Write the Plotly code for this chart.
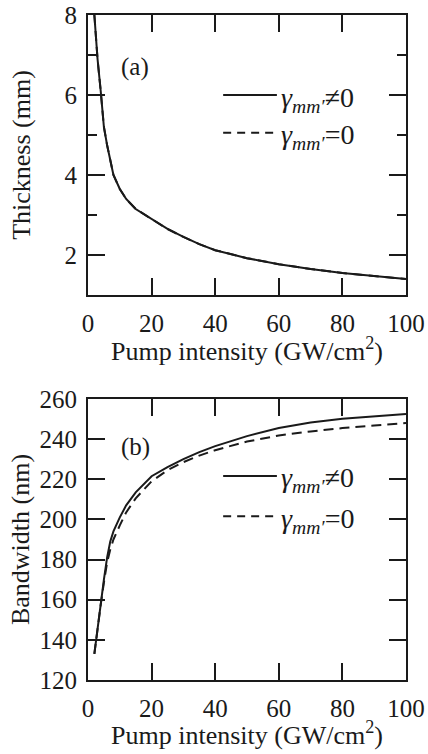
import plotly.graph_objects as go

# ---- data ----
intensity = [2, 3, 4, 5, 6, 7, 8, 10, 12, 15, 20, 25, 30, 35, 40, 50, 60, 70, 80, 90, 100]
thickness_nonzero = [8.0, 6.9, 6.1, 5.2, 4.75, 4.35, 4.0, 3.65, 3.4, 3.15, 2.9, 2.65, 2.45, 2.27, 2.12, 1.92, 1.77, 1.65, 1.55, 1.47, 1.40]
thickness_zero = [8.0, 6.9, 6.1, 5.2, 4.75, 4.35, 4.0, 3.65, 3.4, 3.15, 2.9, 2.65, 2.45, 2.27, 2.12, 1.92, 1.77, 1.65, 1.55, 1.47, 1.40]
bandwidth_nonzero = [133, 146, 158, 170, 181, 189, 194, 201, 207, 213.5, 221.5, 226, 230, 233.5, 236.5, 241.5, 245.5, 248.3, 250.2, 251.3, 252.5]
bandwidth_zero = [133, 146, 157.5, 168.5, 178.5, 185, 190, 197, 203.5, 210.5, 219, 224.5, 228.5, 231.8, 234.5, 238.8, 241.8, 243.8, 245.5, 246.8, 248]

x_ticks = [0, 20, 40, 60, 80, 100]
thick_ticks = [2, 4, 6, 8]
bw_ticks = [120, 140, 160, 180, 200, 220, 240, 260]

x_title = "Pump intensity (GW/cm<sup>2</sup>)"
legend_solid = "<i>γ</i><sub><i>mm′</i></sub>≠0"
legend_dash = "<i>γ</i><sub><i>mm′</i></sub>=0"

FONT = "Liberation Serif"
INK = "#1a1a1a"
LW = 2
TICK_SIZE = 25
TITLE_SIZE = 26
LEGEND_SIZE = 28

fig = go.Figure()
fig.add_trace(go.Scatter(x=intensity, y=thickness_zero, mode="lines",
                         line=dict(color=INK, width=LW, dash="10px,6px"), xaxis="x", yaxis="y"))
fig.add_trace(go.Scatter(x=intensity, y=thickness_nonzero, mode="lines",
                         line=dict(color=INK, width=LW), xaxis="x", yaxis="y"))
fig.add_trace(go.Scatter(x=intensity, y=bandwidth_zero, mode="lines",
                         line=dict(color=INK, width=LW, dash="10px,6px"), xaxis="x2", yaxis="y2"))
fig.add_trace(go.Scatter(x=intensity, y=bandwidth_nonzero, mode="lines",
                         line=dict(color=INK, width=LW), xaxis="x2", yaxis="y2"))

axis_common = dict(showline=True, linecolor=INK, linewidth=LW, mirror="ticks",
                   ticks="inside", ticklen=17, tickwidth=LW, tickcolor=INK,
                   showgrid=False, zeroline=False, automargin=False,
                   tickfont=dict(family=FONT, size=TICK_SIZE, color=INK))

fig.update_layout(
    width=428, height=754,
    margin=dict(l=88, r=22, t=15, b=74),
    paper_bgcolor="white", plot_bgcolor="white",
    showlegend=False,
    xaxis=dict(domain=[0, 1], range=[0, 100], tickvals=x_ticks, anchor="y",
               ticklabelstandoff=5, **axis_common),
    yaxis=dict(domain=[0.579, 1.0], range=[1, 8], tickvals=thick_ticks, anchor="x",
               minor=dict(tickvals=[3, 5, 7], ticklen=9, tickwidth=LW, tickcolor=INK, ticks="inside"),
               title=dict(text="Thickness (mm)", font=dict(family=FONT, size=TITLE_SIZE, color=INK), standoff=26),
               ticklabelstandoff=4, **axis_common),
    xaxis2=dict(domain=[0, 1], range=[0, 100], tickvals=x_ticks, anchor="y2",
                ticklabelstandoff=5, **axis_common),
    yaxis2=dict(domain=[0, 0.4226], range=[120, 260], tickvals=bw_ticks, anchor="x2",
                title=dict(text="Bandwidth (nm)", font=dict(family=FONT, size=TITLE_SIZE, color=INK), standoff=2),
                ticklabelstandoff=4, **axis_common),
)

# x-axis titles
fig.add_annotation(text=x_title, xref="x domain", yref="y domain", x=0.5, y=0, yshift=-55,
                   xanchor="center", yanchor="middle", showarrow=False,
                   font=dict(family=FONT, size=TITLE_SIZE, color=INK))
fig.add_annotation(text=x_title, xref="x2 domain", yref="y2 domain", x=0.5, y=0, yshift=-53,
                   xanchor="center", yanchor="middle", showarrow=False,
                   font=dict(family=FONT, size=TITLE_SIZE, color=INK))

# panel labels
fig.add_annotation(text="(a)", xref="x domain", yref="y domain", x=0.148, y=0.814,
                   xanchor="center", yanchor="middle",
                   showarrow=False, font=dict(family=FONT, size=TICK_SIZE, color=INK))
fig.add_annotation(text="(b)", xref="x2 domain", yref="y2 domain", x=0.148, y=0.829,
                   xanchor="center", yanchor="middle",
                   showarrow=False, font=dict(family=FONT, size=TICK_SIZE, color=INK))

# legends (line samples + labels) drawn inside each panel
def add_legend(xd, yd, y_solid, y_dash):
    fig.add_shape(type="line", xref=xd, yref=yd, x0=0.425, x1=0.594, y0=y_solid, y1=y_solid,
                  line=dict(color=INK, width=LW))
    fig.add_shape(type="line", xref=xd, yref=yd, x0=0.425, x1=0.594, y0=y_dash, y1=y_dash,
                  line=dict(color=INK, width=LW, dash="8px,6px"))
    fig.add_annotation(text=legend_solid, xref=xd, yref=yd, x=0.6, y=y_solid, xanchor="left",
                       yanchor="middle", yshift=-4, showarrow=False,
                       font=dict(family=FONT, size=LEGEND_SIZE, color=INK))
    fig.add_annotation(text=legend_dash, xref=xd, yref=yd, x=0.6, y=y_dash, xanchor="left",
                       yanchor="middle", yshift=-4, showarrow=False,
                       font=dict(family=FONT, size=LEGEND_SIZE, color=INK))

add_legend("x domain", "y domain", 0.714, 0.579)
add_legend("x2 domain", "y2 domain", 0.726, 0.583)

fig.write_html("out.html",
               config={"displayModeBar": False},
               post_script="document.body.style.margin='0';document.body.style.overflow='hidden';"
                           "document.documentElement.style.overflow='hidden';")
